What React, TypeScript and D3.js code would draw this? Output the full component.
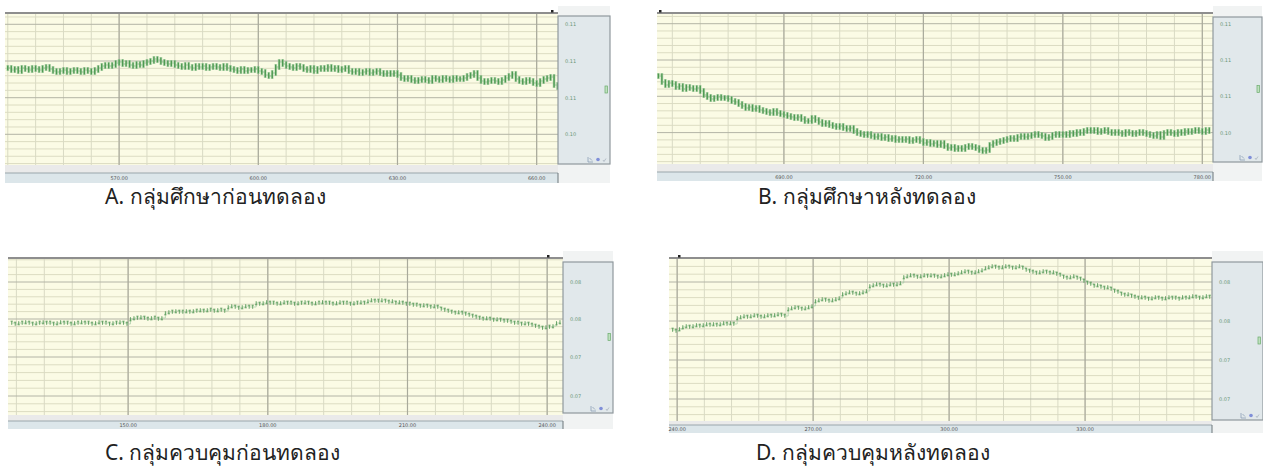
import React from 'react';
import * as d3 from 'd3';

// sampling interval of every record (x units)
const STEP = 0.75;

// A. study group, before
const startA = 546;
const seriesA = [
  0.1093, 0.1091, 0.1092, 0.1090, 0.1093, 0.1092, 0.1091, 0.1093, 0.1092, 0.1091,
  0.1093, 0.1094, 0.1092, 0.1090, 0.1089, 0.1090, 0.1091, 0.1089, 0.1090, 0.1091,
  0.1090, 0.1089, 0.1091, 0.1090, 0.1089, 0.1091, 0.1093, 0.1095, 0.1096, 0.1095,
  0.1096, 0.1098, 0.1099, 0.1097, 0.1098, 0.1096, 0.1095, 0.1097, 0.1096, 0.1098,
  0.1099, 0.1100, 0.1102, 0.1101, 0.1099, 0.1098, 0.1097, 0.1098, 0.1096, 0.1095,
  0.1094, 0.1096, 0.1094, 0.1093, 0.1095, 0.1094, 0.1095, 0.1093, 0.1094, 0.1095,
  0.1094, 0.1093, 0.1095, 0.1093, 0.1092, 0.1091, 0.1090, 0.1092, 0.1090, 0.1091,
  0.1091, 0.1092, 0.1090, 0.1089, 0.1086, 0.1085, 0.1088, 0.1094, 0.1099, 0.1097,
  0.1095, 0.1094, 0.1093, 0.1095, 0.1094, 0.1092, 0.1091, 0.1093, 0.1090, 0.1092,
  0.1093, 0.1092, 0.1094, 0.1092, 0.1093, 0.1091, 0.1092, 0.1093, 0.1090, 0.1089,
  0.1090, 0.1088, 0.1089, 0.1090, 0.1088, 0.1089, 0.1090, 0.1088, 0.1087, 0.1088,
  0.1087, 0.1088, 0.1086, 0.1083, 0.1082, 0.1083, 0.1081, 0.1080, 0.1081, 0.1082,
  0.1081, 0.1080, 0.1083, 0.1082, 0.1081, 0.1083, 0.1082, 0.1081, 0.1083, 0.1082,
  0.1082, 0.1083, 0.1085, 0.1086, 0.1088, 0.1083, 0.1080, 0.1079, 0.1080, 0.1081,
  0.1080, 0.1079, 0.1081, 0.1083, 0.1085, 0.1087, 0.1082, 0.1080, 0.1079, 0.1081,
  0.1080, 0.1078, 0.1077, 0.1080, 0.1082, 0.1083, 0.1084, 0.1076, 0.1074,
];
const xTicksA = [570, 600, 630, 660];
const yTicksA = [0.11367, 0.11, 0.10633, 0.10267];
const yLabelsA = ['0.11', '0.11', '0.11', '0.10'];

// B. study group, after
const startB = 663;
const seriesB = [
  0.1084, 0.1078, 0.1075, 0.1077, 0.1076, 0.1073, 0.1074, 0.1071, 0.1073, 0.1072,
  0.1071, 0.1072, 0.1069, 0.1065, 0.1063, 0.1061, 0.1062, 0.1063, 0.1062, 0.1062,
  0.1061, 0.1059, 0.1058, 0.1056, 0.1054, 0.1052, 0.1053, 0.1051, 0.1052, 0.1050,
  0.1049, 0.1048, 0.1047, 0.1049, 0.1047, 0.1046, 0.1045, 0.1044, 0.1043, 0.1042,
  0.1043, 0.1041, 0.1039, 0.1039, 0.1042, 0.1040, 0.1038, 0.1036, 0.1037, 0.1035,
  0.1034, 0.1033, 0.1034, 0.1032, 0.1031, 0.1032, 0.1029, 0.1027, 0.1026, 0.1025,
  0.1026, 0.1024, 0.1023, 0.1024, 0.1022, 0.1023, 0.1021, 0.1022, 0.1020, 0.1021,
  0.1020, 0.1021, 0.1019, 0.1020, 0.1021, 0.1019, 0.1017, 0.1018, 0.1016, 0.1017,
  0.1015, 0.1017, 0.1014, 0.1012, 0.1013, 0.1011, 0.1012, 0.1011, 0.1013, 0.1014,
  0.1013, 0.1012, 0.1010, 0.1009, 0.1010, 0.1015, 0.1017, 0.1018, 0.1019, 0.1020,
  0.1021, 0.1022, 0.1021, 0.1023, 0.1024, 0.1023, 0.1024, 0.1025, 0.1026, 0.1025,
  0.1024, 0.1022, 0.1023, 0.1025, 0.1026, 0.1025, 0.1026, 0.1025, 0.1027, 0.1026,
  0.1028, 0.1027, 0.1029, 0.1030, 0.1029, 0.1030, 0.1028, 0.1029, 0.1030, 0.1028,
  0.1027, 0.1028, 0.1027, 0.1026, 0.1028, 0.1027, 0.1026, 0.1027, 0.1028, 0.1027,
  0.1026, 0.1025, 0.1024, 0.1026, 0.1023, 0.1027, 0.1028, 0.1027, 0.1026, 0.1028,
  0.1027, 0.1029, 0.1028, 0.1029, 0.1030, 0.1029, 0.1028, 0.1030, 0.1029,
];
const xTicksB = [690, 720, 750, 780];
const yTicksB = [0.11363, 0.11, 0.10637, 0.10274];
const yLabelsB = ['0.11', '0.11', '0.11', '0.10'];

// C. control group, before
const startC = 125;
const seriesC = [
  0.0766, 0.0765, 0.0766, 0.0766, 0.0767, 0.0766, 0.0765, 0.0766, 0.0766, 0.0767,
  0.0766, 0.0766, 0.0765, 0.0766, 0.0767, 0.0766, 0.0766, 0.0765, 0.0766, 0.0766,
  0.0767, 0.0766, 0.0766, 0.0765, 0.0766, 0.0767, 0.0766, 0.0766, 0.0765, 0.0766,
  0.0766, 0.0767, 0.0766, 0.0765,
  0.0770, 0.0771, 0.0771, 0.0772, 0.0771, 0.0770, 0.0771, 0.0771, 0.0770, 0.0771,
  0.0776, 0.0777, 0.0777, 0.0778, 0.0777, 0.0777, 0.0778, 0.0777, 0.0778, 0.0778,
  0.0779, 0.0778, 0.0779, 0.0779, 0.0778, 0.0779, 0.0779, 0.0778,
  0.0782, 0.0783, 0.0782, 0.0781, 0.0782, 0.0783, 0.0782, 0.0782,
  0.0786, 0.0785, 0.0786, 0.0787, 0.0786, 0.0786, 0.0785, 0.0786, 0.0787, 0.0786,
  0.0786, 0.0785, 0.0786, 0.0786, 0.0787, 0.0786, 0.0785, 0.0786, 0.0786, 0.0787,
  0.0786, 0.0786, 0.0785, 0.0786, 0.0787, 0.0786, 0.0786, 0.0785, 0.0786, 0.0786,
  0.0787, 0.0786,
  0.0788, 0.0789, 0.0788, 0.0788, 0.0789, 0.0788, 0.0787, 0.0788,
  0.0786, 0.0787, 0.0786, 0.0785,
  0.0785, 0.0784, 0.0784, 0.0783, 0.0784, 0.0783, 0.0782, 0.0783, 0.0782,
  0.0780, 0.0779, 0.0778, 0.0777, 0.0776, 0.0777, 0.0776, 0.0775, 0.0774,
  0.0773, 0.0772, 0.0771, 0.0770, 0.0771, 0.0770, 0.0769, 0.0770, 0.0769, 0.0768, 0.0768,
  0.0767, 0.0766, 0.0766, 0.0765, 0.0766, 0.0765, 0.0764,
  0.0763, 0.0762, 0.0761, 0.0762, 0.0762, 0.0763,
  0.0766, 0.0767,
];
const xTicksC = [150, 180, 210, 240];
const yTicksC = [0.0807, 0.077, 0.0732, 0.0693];
const yLabelsC = ['0.08', '0.08', '0.07', '0.07'];

// D. control group, after
const startD = 239;
const seriesD = [
  0.0761, 0.0760, 0.0762,
  0.0764, 0.0765, 0.0764, 0.0765, 0.0766, 0.0765, 0.0766, 0.0767, 0.0766, 0.0767,
  0.0766, 0.0767, 0.0768, 0.0767, 0.0768, 0.0767,
  0.0773, 0.0774, 0.0775, 0.0774, 0.0775, 0.0776, 0.0775, 0.0774, 0.0775, 0.0776,
  0.0775, 0.0776, 0.0777, 0.0776, 0.0775,
  0.0782, 0.0783, 0.0784, 0.0783, 0.0782, 0.0783, 0.0784, 0.0785,
  0.0790, 0.0791, 0.0792, 0.0791, 0.0790, 0.0791, 0.0792, 0.0793,
  0.0797, 0.0798, 0.0799, 0.0798, 0.0797, 0.0798, 0.0799, 0.0800,
  0.0805, 0.0806, 0.0807, 0.0806, 0.0805, 0.0806, 0.0807, 0.0806, 0.0807, 0.0808,
  0.0814, 0.0815, 0.0816, 0.0815, 0.0814, 0.0815, 0.0816, 0.0815, 0.0816, 0.0815,
  0.0814, 0.0815, 0.0816, 0.0817, 0.0816, 0.0817,
  0.0818, 0.0819, 0.0820, 0.0819, 0.0818, 0.0819, 0.0820, 0.0821,
  0.0823, 0.0824, 0.0825, 0.0824, 0.0823, 0.0824, 0.0825, 0.0824, 0.0823, 0.0824,
  0.0825, 0.0823,
  0.0821, 0.0820, 0.0819, 0.0818, 0.0819, 0.0820, 0.0819, 0.0818, 0.0819,
  0.0817, 0.0816, 0.0814, 0.0813, 0.0814, 0.0815, 0.0813, 0.0812,
  0.0810, 0.0808, 0.0807, 0.0805, 0.0806, 0.0804, 0.0803, 0.0804, 0.0802,
  0.0800, 0.0799, 0.0797, 0.0796, 0.0797, 0.0795, 0.0794,
  0.0793, 0.0794, 0.0793, 0.0792, 0.0793, 0.0794, 0.0793, 0.0792, 0.0793, 0.0794,
  0.0793, 0.0793, 0.0792, 0.0794, 0.0793, 0.0794, 0.0795, 0.0794, 0.0793, 0.0794,
  0.0795, 0.0794,
];
const xTicksD = [240, 270, 300, 330];
const yTicksD = [0.0809, 0.077, 0.0731, 0.0692];
const yLabelsD = ['0.08', '0.08', '0.07', '0.07'];

const captions = [
  'A. กลุ่มศึกษาก่อนทดลอง',
  'B. กลุ่มศึกษาหลังทดลอง',
  'C. กลุ่มควบคุมก่อนทดลอง',
  'D. กลุ่มควบคุมหลังทดลอง',
];

type Layout = {
  x0: number; x1: number; top: number; bottom: number;
  stripY: number; stripH: number; px1: number; py0: number; py1: number;
  dotX: number; capX: number; capY: number;
};

type PanelProps = {
  data: number[]; start: number; xDomain: [number, number]; xTicks: number[];
  yDomain: [number, number]; yTicks: number[]; yLabels: string[];
  caption: string; lay: Layout; kind: 'bar' | 'tick';
};

const green = '#4f9a52';

function Panel({ data, start, xDomain, xTicks, yDomain, yTicks, yLabels, caption, lay, kind }: PanelProps) {
  const x = d3.scaleLinear().domain(xDomain).range([lay.x0, lay.x1]);
  const y = d3.scaleLinear().domain(yDomain).range([lay.bottom, lay.top]);

  const xMinor = d3.range(Math.ceil(xDomain[0] / 6) * 6, xDomain[1], 6);
  const yMinor: number[] = [];
  const first = (yTicks[0] - yTicks[1]) / 5;
  for (let v = yTicks[0] + first; v < yDomain[1]; v += first) yMinor.push(v);
  for (let k = 0; k < yTicks.length - 1; k++) {
    const s = (yTicks[k] - yTicks[k + 1]) / 5;
    for (let j = 1; j < 5; j++) yMinor.push(yTicks[k] - j * s);
  }
  const n = yTicks.length;
  const last = (yTicks[n - 2] - yTicks[n - 1]) / 5;
  for (let v = yTicks[n - 1] - last; v > yDomain[0]; v -= last) yMinor.push(v);

  const pts: [number, number][] = data.map((v, i) => [x(start + i * STEP), y(v)]);
  const step = d3.line().curve(d3.curveStepAfter)(pts) || '';

  return (
    <g>
      {/* area behind right panel */}
      <rect x={lay.x1} y={lay.top - 8} width={lay.px1 - lay.x1} height={lay.stripY + lay.stripH - lay.top + 8} fill="#f1f3f3" />
      <rect x={lay.x0} y={lay.top} width={lay.x1 - lay.x0} height={lay.bottom - lay.top} fill="#fbfbe5" />
      {yMinor.map((v, i) => (
        <line key={'hy' + i} x1={lay.x0} x2={lay.x1} y1={y(v)} y2={y(v)} stroke="#dcdcc2" strokeWidth={1} />
      ))}
      {xMinor.map((v, i) => (
        <line key={'vx' + i} x1={x(v)} x2={x(v)} y1={lay.top} y2={lay.bottom} stroke="#d9dac4" strokeWidth={1} />
      ))}
      {yTicks.map((v, i) => (
        <line key={'hY' + i} x1={lay.x0} x2={lay.x1} y1={y(v)} y2={y(v)} stroke="#b3b4a6" strokeWidth={1} />
      ))}
      {xTicks.map((v, i) => (
        <line key={'vX' + i} x1={x(v)} x2={x(v)} y1={lay.top} y2={lay.bottom} stroke="#a9aa9c" strokeWidth={1.2} />
      ))}

      {/* data */}
      <path d={step} fill="none" stroke={kind === 'bar' ? '#8fc38f' : '#a3cda3'} strokeWidth={kind === 'bar' ? 1 : 0.7} />
      {pts.map(([px, py], i) => {
        const prev = i > 0 ? pts[i - 1][1] : py;
        if (kind === 'bar') {
          const t = Math.min(prev, py) - 2.5;
          const b = Math.max(prev, py) + 2.5;
          return (
            <g key={'b' + i}>
              <rect x={px - 1.4} y={t - 0.5} width={2.8} height={b - t + 1} fill="#a8d2a6" opacity={0.7} />
              <rect x={px - 0.7} y={t} width={1.4} height={b - t} fill={green} />
            </g>
          );
        }
        const down = py >= prev;
        const capY = down ? py - 1.8 : py + 1.8;
        return (
          <g key={'t' + i} stroke="#5a9c5b" strokeWidth={0.9}>
            <line x1={px} x2={px} y1={py - 1.8} y2={py + 1.8} />
            <line x1={px - 1.1} x2={px + 1.1} y1={capY} y2={capY} />
          </g>
        );
      })}

      {/* top border and marker */}
      <line x1={lay.x0} x2={lay.x1} y1={lay.top - 1} y2={lay.top - 1} stroke="#8e8e8e" strokeWidth={2} />
      <rect x={lay.dotX - 1} y={lay.top - 4} width={2.5} height={2.5} fill="#222" />

      {/* bottom strip */}
      <rect x={lay.x0} y={lay.bottom} width={lay.x1 - lay.x0} height={lay.stripY - lay.bottom} fill="#eaeaea" />
      <rect x={lay.x0} y={lay.stripY} width={lay.x1 - lay.x0} height={lay.stripH} fill="#dce6ea" />
      <line x1={lay.x0} x2={lay.x1} y1={lay.stripY} y2={lay.stripY} stroke="#9aa6ab" strokeWidth={1} />
      <line x1={lay.x1} x2={lay.x1} y1={lay.stripY} y2={lay.stripY + lay.stripH} stroke="#6d767a" strokeWidth={1} />
      {xTicks.map((v, i) => (
        <text key={'xl' + i} x={x(v)} y={lay.stripY + lay.stripH / 2 + 2} fontSize={5} fill="#555" textAnchor="middle"
          fontFamily="DejaVu Sans, sans-serif">{v.toFixed(2)}</text>
      ))}

      {/* right value panel */}
      <rect x={lay.x1} y={lay.py0} width={lay.px1 - lay.x1} height={lay.py1 - lay.py0} fill="#e1e8eb" stroke="#8f989d" strokeWidth={1.2} />
      {yTicks.map((v, i) => (
        <text key={'yl' + i} x={lay.x1 + 7} y={y(v) + 2} fontSize={5} fill="#6a9777" fontFamily="DejaVu Sans, sans-serif">{yLabels[i]}</text>
      ))}
      <rect x={lay.px1 - 5} y={(lay.py0 + lay.py1) / 2 - 4} width={2.5} height={7} fill="#bfe0bf" stroke="#6aab6a" strokeWidth={0.7} />
      <g transform={`translate(${lay.px1 - 22},${lay.py1 - 7})`}>
        <path d="M0,0 L0,5 L5,5 M1.5,1 L4,3.5" fill="none" stroke="#8a9fb5" strokeWidth={0.8} />
        <circle cx={10} cy={2.5} r={1.8} fill="#7f8fd8" />
        <path d="M15,3 L16,4.5 L18,1.5" fill="none" stroke="#a0aab8" strokeWidth={0.7} />
      </g>

      <text x={lay.capX} y={lay.capY} fontSize={21} fill="#222"
        fontFamily="Tahoma, 'Noto Sans', 'DejaVu Sans', sans-serif">{caption}</text>
    </g>
  );
}

const layA: Layout = { x0: 5, x1: 558, top: 14, bottom: 165, stripY: 173, stripH: 10, px1: 610, py0: 16, py1: 164, dotX: 552, capX: 105, capY: 204 };
const layB: Layout = { x0: 657, x1: 1213, top: 14, bottom: 164, stripY: 172, stripH: 9, px1: 1262, py0: 17, py1: 162, dotX: 660, capX: 758, capY: 204 };
const layC: Layout = { x0: 8, x1: 563, top: 259, bottom: 415, stripY: 421, stripH: 8, px1: 613, py0: 262, py1: 413, dotX: 548, capX: 105, capY: 460 };
const layD: Layout = { x0: 669, x1: 1212, top: 259, bottom: 421, stripY: 425, stripH: 8, px1: 1263, py0: 262, py1: 420, dotX: 679, capX: 756, capY: 460 };

export default function App() {
  return (
    <svg width={1263} height={468} style={{ position: 'absolute', left: 0, top: 0, background: '#fff' }}>
      <Panel data={seriesA} start={startA} xDomain={[545.4, 664.6]} xTicks={xTicksA} yDomain={[0.0996, 0.1147]}
        yTicks={yTicksA} yLabels={yLabelsA} caption={captions[0]} lay={layA} kind="bar" />
      <Panel data={seriesB} start={startB} xDomain={[662.7, 782.3]} xTicks={xTicksB} yDomain={[0.0996, 0.1146]}
        yTicks={yTicksB} yLabels={yLabelsB} caption={captions[1]} lay={layB} kind="bar" />
      <Panel data={seriesC} start={startC} xDomain={[124.2, 243.4]} xTicks={xTicksC} yDomain={[0.0674, 0.083]}
        yTicks={yTicksC} yLabels={yLabelsC} caption={captions[2]} lay={layC} kind="tick" />
      <Panel data={seriesD} start={startD} xDomain={[238.2, 358.0]} xTicks={xTicksD} yDomain={[0.067, 0.0832]}
        yTicks={yTicksD} yLabels={yLabelsD} caption={captions[3]} lay={layD} kind="tick" />
    </svg>
  );
}
